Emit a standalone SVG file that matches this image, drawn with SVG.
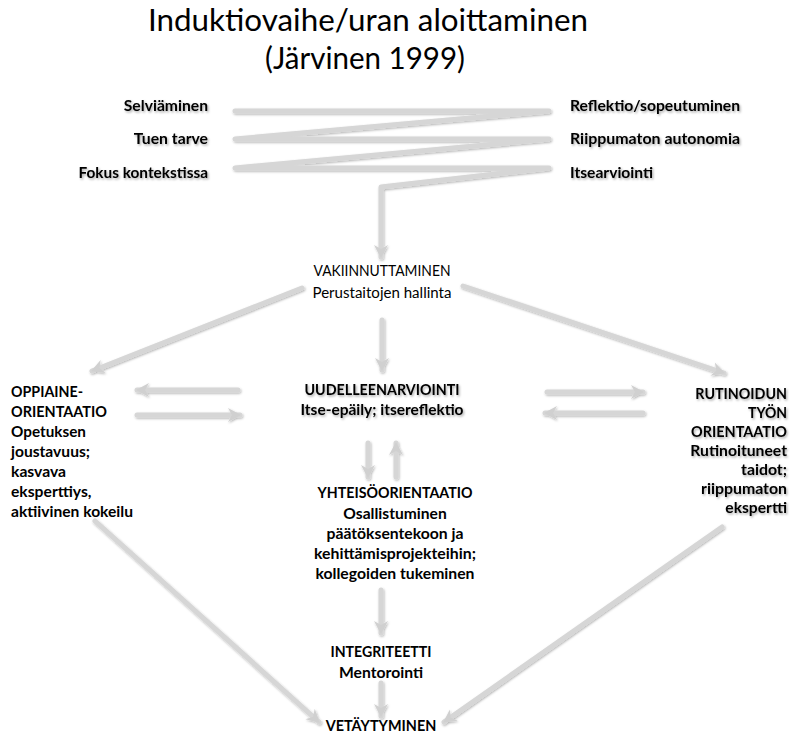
<svg xmlns="http://www.w3.org/2000/svg" width="796" height="741" viewBox="0 0 796 741">
<defs>
<style>
.t{font-family:Lato,"Liberation Sans",sans-serif;font-weight:bold;font-size:15.5px;fill:#000}
.r{font-weight:normal}
.title{font-family:Lato,"Liberation Sans",sans-serif;font-size:30px;fill:#000}
.m{text-anchor:middle}
.e{text-anchor:end}
.sh{filter:url(#ts)}
.c{fill:none;stroke:#d6d6d6;stroke-width:5;stroke-linecap:round;stroke-linejoin:round}
.ca{marker-end:url(#ah)}
</style>
<filter id="ts" x="-10%" y="-40%" width="120%" height="180%">
<feDropShadow dx="1.2" dy="1.5" stdDeviation="1.2" flood-color="#000" flood-opacity="0.35"/>
</filter>
<filter id="as" filterUnits="userSpaceOnUse" x="0" y="0" width="796" height="741">
<feDropShadow dx="0.8" dy="1.2" stdDeviation="1.2" flood-color="#000" flood-opacity="0.3"/>
</filter>
<marker id="ah" markerUnits="userSpaceOnUse" markerWidth="18" markerHeight="18" viewBox="0 0 18 18" refX="15" refY="9" orient="auto">
<path d="M3,2 L16,9 L3,16 L7,9 Z" fill="#d0d0d0"/>
</marker>
</defs>
<rect width="796" height="741" fill="#fff"/>

<g id="title">
<text class="title" x="148" y="31" textLength="440" lengthAdjust="spacingAndGlyphs">Induktiovaihe/uran aloittaminen</text>
<text class="title" x="265" y="69" textLength="200" lengthAdjust="spacingAndGlyphs">(Järvinen 1999)</text>
</g>

<g id="connectors" filter="url(#as)">
<path class="c ca" d="M235,111 H549 L235,139 H549 L235,168 H549 L381,187 V257"/>
<path class="c ca" d="M302,288 L92,371"/>
<path class="c ca" d="M463,286 L724,373"/>
<path class="c ca" d="M382,320 V370"/>
<path class="c ca" d="M238,390 H137"/>
<path class="c ca" d="M137,415 H240"/>
<path class="c ca" d="M547,392 H643"/>
<path class="c ca" d="M643,413 H545"/>
<path class="c ca" d="M368,443 V477"/>
<path class="c ca" d="M396,477 V443"/>
<path class="c ca" d="M381,590 V633"/>
<path class="c ca" d="M381,683 V716"/>
<path class="c ca" d="M95,521 L319,722"/>
<path class="c ca" d="M722,527 L444,722"/>
</g>

<g id="selviaminen"><text class="t e sh" x="208" y="110.5" textLength="84.2" lengthAdjust="spacingAndGlyphs">Selviäminen</text></g>
<g id="tuen-tarve"><text class="t e sh" x="208" y="143.5" textLength="74.2" lengthAdjust="spacingAndGlyphs">Tuen tarve</text></g>
<g id="fokus"><text class="t e sh" x="208" y="177.5" textLength="129.6" lengthAdjust="spacingAndGlyphs">Fokus kontekstissa</text></g>
<g id="reflektio"><text class="t sh" x="570" y="110.5" textLength="170" lengthAdjust="spacingAndGlyphs">Reflektio/sopeutuminen</text></g>
<g id="riippumaton"><text class="t sh" x="570" y="143.5" textLength="170" lengthAdjust="spacingAndGlyphs">Riippumaton autonomia</text></g>
<g id="itsearviointi"><text class="t sh" x="570" y="177.5" textLength="83" lengthAdjust="spacingAndGlyphs">Itsearviointi</text></g>

<g id="vakiinnuttaminen">
<text class="t r m" x="382" y="275.5" textLength="137" lengthAdjust="spacingAndGlyphs">VAKIINNUTTAMINEN</text>
<text class="t r m" x="382" y="298" textLength="139" lengthAdjust="spacingAndGlyphs">Perustaitojen hallinta</text>
</g>

<g id="uudelleenarviointi">
<text class="t m sh" x="382" y="395" textLength="155" lengthAdjust="spacingAndGlyphs">UUDELLEENARVIOINTI</text>
<text class="t m sh" x="382" y="415" textLength="163" lengthAdjust="spacingAndGlyphs">Itse-epäily; itsereflektio</text>
</g>

<g id="oppiaine">
<text class="t" x="11" y="397" textLength="72" lengthAdjust="spacingAndGlyphs">OPPIAINE-</text>
<text class="t" x="11" y="417" textLength="96" lengthAdjust="spacingAndGlyphs">ORIENTAATIO</text>
<text class="t" x="11" y="437" textLength="75" lengthAdjust="spacingAndGlyphs">Opetuksen</text>
<text class="t" x="11" y="457" textLength="79" lengthAdjust="spacingAndGlyphs">joustavuus;</text>
<text class="t" x="11" y="477" textLength="55" lengthAdjust="spacingAndGlyphs">kasvava</text>
<text class="t" x="11" y="497" textLength="80.5" lengthAdjust="spacingAndGlyphs">eksperttiys,</text>
<text class="t" x="11" y="517" textLength="122" lengthAdjust="spacingAndGlyphs">aktiivinen kokeilu</text>
</g>

<g id="rutinoidun">
<text class="t e sh" x="787" y="398.5" textLength="91.7" lengthAdjust="spacingAndGlyphs">RUTINOIDUN</text>
<text class="t e sh" x="787" y="417.5" textLength="39" lengthAdjust="spacingAndGlyphs">TYÖN</text>
<text class="t e sh" x="787" y="436.5" textLength="96" lengthAdjust="spacingAndGlyphs">ORIENTAATIO</text>
<text class="t e sh" x="787" y="455.5" textLength="96.7" lengthAdjust="spacingAndGlyphs">Rutinoituneet</text>
<text class="t e sh" x="787" y="474.5" textLength="46" lengthAdjust="spacingAndGlyphs">taidot;</text>
<text class="t e sh" x="787" y="493.5" textLength="86" lengthAdjust="spacingAndGlyphs">riippumaton</text>
<text class="t e sh" x="787" y="512.5" textLength="61.7" lengthAdjust="spacingAndGlyphs">ekspertti</text>
</g>

<g id="yhteiso">
<text class="t m" x="395" y="497.5" textLength="155" lengthAdjust="spacingAndGlyphs">YHTEISÖORIENTAATIO</text>
<text class="t m" x="395" y="519" textLength="103.4" lengthAdjust="spacingAndGlyphs">Osallistuminen</text>
<text class="t m" x="395" y="539" textLength="137" lengthAdjust="spacingAndGlyphs">päätöksentekoon ja</text>
<text class="t m" x="395" y="559" textLength="162" lengthAdjust="spacingAndGlyphs">kehittämisprojekteihin;</text>
<text class="t m" x="395" y="579" textLength="159" lengthAdjust="spacingAndGlyphs">kollegoiden tukeminen</text>
</g>

<g id="integriteetti">
<text class="t m" x="381" y="657" textLength="101" lengthAdjust="spacingAndGlyphs">INTEGRITEETTI</text>
<text class="t m" x="381" y="678" textLength="84" lengthAdjust="spacingAndGlyphs">Mentorointi</text>
</g>

<g id="vetaytyminen">
<text class="t m" x="381" y="731" textLength="110.6" lengthAdjust="spacingAndGlyphs">VETÄYTYMINEN</text>
</g>
</svg>
